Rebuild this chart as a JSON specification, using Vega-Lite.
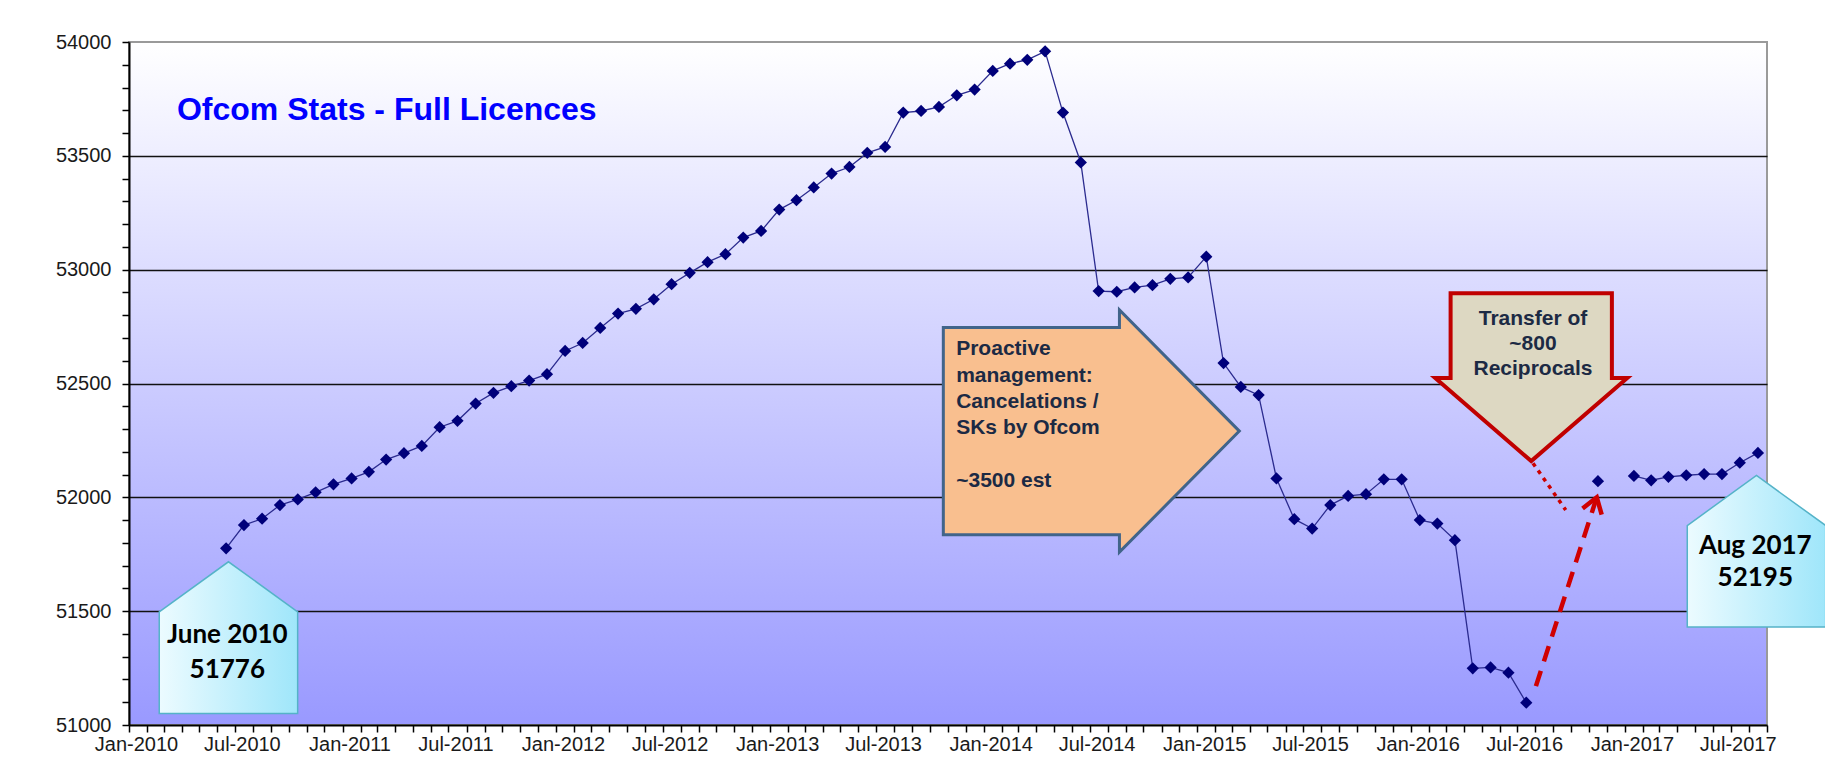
{
  "$schema": "https://vega.github.io/schema/vega-lite/v6.json",
  "width": 1638,
  "height": 683,
  "autosize": {"type": "none"},
  "padding": {"left": 129, "top": 42, "right": 58, "bottom": 52},
  "background": "#ffffff",
  "config": {
    "view": {
      "stroke": "#9a9a9a",
      "strokeWidth": 2,
      "fill": {"gradient": "linear", "x1": 0, "y1": 0, "x2": 0, "y2": 1,
        "stops": [{"offset": 0, "color": "#ffffff"}, {"offset": 1, "color": "#9999ff"}]}
    },
    "axis": {
      "labelFont": "Liberation Sans",
      "labelFontSize": 20,
      "labelColor": "#1a1a1a",
      "tickColor": "#000000",
      "tickWidth": 1.5,
      "tickSize": 7,
      "domainColor": "#000000",
      "domainWidth": 2
    }
  },
  "datasets": {
    "licences": [
      {"month": "2010-06-01", "licences": 51776},
      {"month": "2010-07-01", "licences": 51878},
      {"month": "2010-08-01", "licences": 51906},
      {"month": "2010-09-01", "licences": 51966},
      {"month": "2010-10-01", "licences": 51991},
      {"month": "2010-11-01", "licences": 52022},
      {"month": "2010-12-01", "licences": 52057},
      {"month": "2011-01-01", "licences": 52083},
      {"month": "2011-02-01", "licences": 52112},
      {"month": "2011-03-01", "licences": 52166},
      {"month": "2011-04-01", "licences": 52194},
      {"month": "2011-05-01", "licences": 52226},
      {"month": "2011-06-01", "licences": 52308},
      {"month": "2011-07-01", "licences": 52336},
      {"month": "2011-08-01", "licences": 52412},
      {"month": "2011-09-01", "licences": 52459},
      {"month": "2011-10-01", "licences": 52488},
      {"month": "2011-11-01", "licences": 52513},
      {"month": "2011-12-01", "licences": 52541},
      {"month": "2012-01-01", "licences": 52643},
      {"month": "2012-02-01", "licences": 52678},
      {"month": "2012-03-01", "licences": 52744},
      {"month": "2012-04-01", "licences": 52807},
      {"month": "2012-05-01", "licences": 52828},
      {"month": "2012-06-01", "licences": 52870},
      {"month": "2012-07-01", "licences": 52936},
      {"month": "2012-08-01", "licences": 52986},
      {"month": "2012-09-01", "licences": 53033},
      {"month": "2012-10-01", "licences": 53068},
      {"month": "2012-11-01", "licences": 53141},
      {"month": "2012-12-01", "licences": 53170},
      {"month": "2013-01-01", "licences": 53264},
      {"month": "2013-02-01", "licences": 53305},
      {"month": "2013-03-01", "licences": 53361},
      {"month": "2013-04-01", "licences": 53422},
      {"month": "2013-05-01", "licences": 53451},
      {"month": "2013-06-01", "licences": 53513},
      {"month": "2013-07-01", "licences": 53539},
      {"month": "2013-08-01", "licences": 53690},
      {"month": "2013-09-01", "licences": 53697},
      {"month": "2013-10-01", "licences": 53715},
      {"month": "2013-11-01", "licences": 53766},
      {"month": "2013-12-01", "licences": 53791},
      {"month": "2014-01-01", "licences": 53873},
      {"month": "2014-02-01", "licences": 53905},
      {"month": "2014-03-01", "licences": 53922},
      {"month": "2014-04-01", "licences": 53959},
      {"month": "2014-05-01", "licences": 53690},
      {"month": "2014-06-01", "licences": 53471},
      {"month": "2014-07-01", "licences": 52906},
      {"month": "2014-08-01", "licences": 52903},
      {"month": "2014-09-01", "licences": 52922},
      {"month": "2014-10-01", "licences": 52932},
      {"month": "2014-11-01", "licences": 52960},
      {"month": "2014-12-01", "licences": 52966},
      {"month": "2015-01-01", "licences": 53057},
      {"month": "2015-02-01", "licences": 52590},
      {"month": "2015-03-01", "licences": 52485},
      {"month": "2015-04-01", "licences": 52449},
      {"month": "2015-05-01", "licences": 52083},
      {"month": "2015-06-01", "licences": 51904},
      {"month": "2015-07-01", "licences": 51863},
      {"month": "2015-08-01", "licences": 51966},
      {"month": "2015-09-01", "licences": 52006},
      {"month": "2015-10-01", "licences": 52014},
      {"month": "2015-11-01", "licences": 52079},
      {"month": "2015-12-01", "licences": 52079},
      {"month": "2016-01-01", "licences": 51900},
      {"month": "2016-02-01", "licences": 51885},
      {"month": "2016-03-01", "licences": 51812},
      {"month": "2016-04-01", "licences": 51249},
      {"month": "2016-05-01", "licences": 51253},
      {"month": "2016-06-01", "licences": 51230},
      {"month": "2016-07-01", "licences": 51098},
      {"month": "2016-08-01", "licences": null},
      {"month": "2016-09-01", "licences": null},
      {"month": "2016-10-01", "licences": null},
      {"month": "2016-11-01", "licences": 52071},
      {"month": "2016-12-01", "licences": null},
      {"month": "2017-01-01", "licences": 52094},
      {"month": "2017-02-01", "licences": 52075},
      {"month": "2017-03-01", "licences": 52090},
      {"month": "2017-04-01", "licences": 52097},
      {"month": "2017-05-01", "licences": 52102},
      {"month": "2017-06-01", "licences": 52102},
      {"month": "2017-07-01", "licences": 52152},
      {"month": "2017-08-01", "licences": 52195}
    ],
    "title": [{"date": "2010-03-24", "value": 53656, "label": "Ofcom Stats - Full Licences"}],
    "houses": [
      {"date": "2010-06-20", "value": 51384},
      {"date": "2017-08-14", "value": 51763}
    ],
    "houseJune": [{"date": "2010-06-18", "value": 51359, "label": "June 2010\n51776"}],
    "houseAug": [{"date": "2017-08-12", "value": 51751, "label": "Aug 2017\n52195"}],
    "orangeArrow": [{"date": "2014-07-04", "value": 52291}],
    "orangeText": [
      {"date": "2013-11-15", "value": 52624, "label": "Proactive\nmanagement:\nCancelations /\nSKs  by Ofcom"},
      {"date": "2013-11-15", "value": 52046, "label": "~3500 est"}
    ],
    "beigeArrow": [{"date": "2016-07-25", "value": 52528}],
    "beigeText": [{"date": "2016-07-28", "value": 52756, "label": "Transfer of\n~800\nReciprocals"}],
    "dotted": [
      {"date": "2016-07-28", "value": 52150},
      {"date": "2016-09-22", "value": 51944}
    ],
    "dashed": [
      {"date": "2016-08-02", "value": 51171},
      {"date": "2016-11-14", "value": 52000}
    ],
    "chevron": [{"date": "2016-11-14", "value": 52000}]
  },
  "layer": [
    {
      "data": {"name": "licences"},
      "mark": {"type": "line", "color": "#2b2b8f", "strokeWidth": 1.3, "invalid": "break-paths-filter-domains"},
      "encoding": {
        "x": {
          "field": "month", "timeUnit": "utcyearmonth", "type": "temporal", "bandPosition": 0.5, "title": null,
          "scale": {"type": "utc", "domain": [{"year": 2010, "month": 1, "date": 1, "utc": true}, {"year": 2017, "month": 9, "date": 1, "utc": true}]},
          "axis": {
            "tickCount": {"interval": "month", "step": 1},
            "labelExpr": "utcmonth(datum.value) % 6 == 0 ? utcFormat(datum.value, '%b-%Y') : ''",
            "labelOffset": 7,
            "labelPadding": 2,
            "labelOverlap": false,
            "labelFlush": false,
            "labelBound": false,
            "grid": false
          }
        },
        "y": {
          "field": "licences", "type": "quantitative", "title": null,
          "scale": {"domain": [51000, 54000], "nice": false, "zero": false},
          "axis": {
            "tickCount": 30,
            "format": "d",
            "labelExpr": "datum.value % 500 == 0 ? datum.label : ''",
            "labelPadding": 11,
            "labelOverlap": false,
            "grid": true,
            "gridColor": "#111111",
            "gridWidth": 1.5,
            "gridOpacity": {"condition": {"test": "datum.value % 500 == 0 && datum.value > 51000 && datum.value < 54000", "value": 1}, "value": 0}
          }
        }
      }
    },
    {
      "data": {"name": "licences"},
      "mark": {"type": "point", "shape": "diamond", "filled": true, "size": 150, "color": "#00007a", "opacity": 1},
      "encoding": {
        "x": {"field": "month", "timeUnit": "utcyearmonth", "type": "temporal", "bandPosition": 0.5, "title": null,
          "scale": {"type": "utc", "domain": [{"year": 2010, "month": 1, "date": 1, "utc": true}, {"year": 2017, "month": 9, "date": 1, "utc": true}]}},
        "y": {"field": "licences", "type": "quantitative", "title": null, "scale": {"domain": [51000, 54000], "nice": false, "zero": false}}
      }
    },
    {
      "data": {"name": "houses"},
      "mark": {"type": "point", "shape": "M -0.913 -0.34 L 0 -1 L 0.913 -0.34 L 0.913 1 L -0.913 1 Z", "size": 22982, "filled": true, "opacity": 1,
        "fill": {"gradient": "linear", "x1": 0, "y1": 0, "x2": 1, "y2": 0, "stops": [{"offset": 0, "color": "#ecfbff"}, {"offset": 1, "color": "#9fe6fa"}]},
        "stroke": "#55b3c8", "strokeWidth": 1.5},
      "encoding": {
        "x": {"field": "date", "type": "temporal", "title": null, "scale": {"type": "utc", "domain": [{"year": 2010, "month": 1, "date": 1, "utc": true}, {"year": 2017, "month": 9, "date": 1, "utc": true}]}},
        "y": {"field": "value", "type": "quantitative", "title": null, "scale": {"domain": [51000, 54000], "nice": false, "zero": false}}
      }
    },
    {
      "data": {"name": "houseJune"},
      "mark": {"type": "text", "font": "Lato", "fontWeight": "bold", "fontSize": 26, "color": "#000000", "align": "center", "baseline": "alphabetic", "lineBreak": "\n", "lineHeight": 35},
      "encoding": {
        "x": {"field": "date", "type": "temporal", "title": null, "scale": {"type": "utc", "domain": [{"year": 2010, "month": 1, "date": 1, "utc": true}, {"year": 2017, "month": 9, "date": 1, "utc": true}]}},
        "y": {"field": "value", "type": "quantitative", "title": null, "scale": {"domain": [51000, 54000], "nice": false, "zero": false}},
        "text": {"field": "label"}
      }
    },
    {
      "data": {"name": "houseAug"},
      "mark": {"type": "text", "font": "Lato", "fontWeight": "bold", "fontSize": 26, "color": "#000000", "align": "center", "baseline": "alphabetic", "lineBreak": "\n", "lineHeight": 32},
      "encoding": {
        "x": {"field": "date", "type": "temporal", "title": null, "scale": {"type": "utc", "domain": [{"year": 2010, "month": 1, "date": 1, "utc": true}, {"year": 2017, "month": 9, "date": 1, "utc": true}]}},
        "y": {"field": "value", "type": "quantitative", "title": null, "scale": {"domain": [51000, 54000], "nice": false, "zero": false}},
        "text": {"field": "label"}
      }
    },
    {
      "data": {"name": "orangeArrow"},
      "mark": {"type": "point", "shape": "M -1 -0.7 L 0.19 -0.7 L 0.19 -0.818 L 1 0 L 0.19 0.818 L 0.19 0.7 L -1 0.7 Z", "size": 87616, "filled": true, "opacity": 1,
        "fill": "#f9bf8f", "stroke": "#41648a", "strokeWidth": 3},
      "encoding": {
        "x": {"field": "date", "type": "temporal", "title": null, "scale": {"type": "utc", "domain": [{"year": 2010, "month": 1, "date": 1, "utc": true}, {"year": 2017, "month": 9, "date": 1, "utc": true}]}},
        "y": {"field": "value", "type": "quantitative", "title": null, "scale": {"domain": [51000, 54000], "nice": false, "zero": false}}
      }
    },
    {
      "data": {"name": "orangeText"},
      "mark": {"type": "text", "font": "Liberation Sans", "fontWeight": "bold", "fontSize": 21, "color": "#1c2a44", "align": "left", "baseline": "alphabetic", "lineBreak": "\n", "lineHeight": 26.3},
      "encoding": {
        "x": {"field": "date", "type": "temporal", "title": null, "scale": {"type": "utc", "domain": [{"year": 2010, "month": 1, "date": 1, "utc": true}, {"year": 2017, "month": 9, "date": 1, "utc": true}]}},
        "y": {"field": "value", "type": "quantitative", "title": null, "scale": {"domain": [51000, 54000], "nice": false, "zero": false}},
        "text": {"field": "label"}
      }
    },
    {
      "data": {"name": "beigeArrow"},
      "mark": {"type": "point", "shape": "M -0.84 -0.875 L 0.84 -0.875 L 0.84 0.01 L 1 0.01 L 0 0.875 L -1 0.01 L -0.84 0.01 Z", "size": 36864, "filled": true, "opacity": 1,
        "fill": "#ddd8c2", "stroke": "#c00000", "strokeWidth": 4},
      "encoding": {
        "x": {"field": "date", "type": "temporal", "title": null, "scale": {"type": "utc", "domain": [{"year": 2010, "month": 1, "date": 1, "utc": true}, {"year": 2017, "month": 9, "date": 1, "utc": true}]}},
        "y": {"field": "value", "type": "quantitative", "title": null, "scale": {"domain": [51000, 54000], "nice": false, "zero": false}}
      }
    },
    {
      "data": {"name": "beigeText"},
      "mark": {"type": "text", "font": "Liberation Sans", "fontWeight": "bold", "fontSize": 21, "color": "#1c2a44", "align": "center", "baseline": "alphabetic", "lineBreak": "\n", "lineHeight": 25},
      "encoding": {
        "x": {"field": "date", "type": "temporal", "title": null, "scale": {"type": "utc", "domain": [{"year": 2010, "month": 1, "date": 1, "utc": true}, {"year": 2017, "month": 9, "date": 1, "utc": true}]}},
        "y": {"field": "value", "type": "quantitative", "title": null, "scale": {"domain": [51000, 54000], "nice": false, "zero": false}},
        "text": {"field": "label"}
      }
    },
    {
      "data": {"name": "dotted"},
      "mark": {"type": "line", "color": "#cc0000", "strokeWidth": 3.5, "strokeDash": [4, 5]},
      "encoding": {
        "x": {"field": "date", "type": "temporal", "title": null, "scale": {"type": "utc", "domain": [{"year": 2010, "month": 1, "date": 1, "utc": true}, {"year": 2017, "month": 9, "date": 1, "utc": true}]}},
        "y": {"field": "value", "type": "quantitative", "title": null, "scale": {"domain": [51000, 54000], "nice": false, "zero": false}}
      }
    },
    {
      "data": {"name": "dashed"},
      "mark": {"type": "line", "color": "#d00000", "strokeWidth": 4.5, "strokeDash": [16, 10]},
      "encoding": {
        "x": {"field": "date", "type": "temporal", "title": null, "scale": {"type": "utc", "domain": [{"year": 2010, "month": 1, "date": 1, "utc": true}, {"year": 2017, "month": 9, "date": 1, "utc": true}]}},
        "y": {"field": "value", "type": "quantitative", "title": null, "scale": {"domain": [51000, 54000], "nice": false, "zero": false}}
      }
    },
    {
      "data": {"name": "chevron"},
      "mark": {"type": "point", "shape": "M -0.67 1 L 0 0 L 0.67 1", "size": 900, "filled": false, "opacity": 1, "fill": "transparent", "fillOpacity": 0, "stroke": "#d00000", "strokeWidth": 4.5, "angle": 18},
      "encoding": {
        "x": {"field": "date", "type": "temporal", "title": null, "scale": {"type": "utc", "domain": [{"year": 2010, "month": 1, "date": 1, "utc": true}, {"year": 2017, "month": 9, "date": 1, "utc": true}]}},
        "y": {"field": "value", "type": "quantitative", "title": null, "scale": {"domain": [51000, 54000], "nice": false, "zero": false}}
      }
    },
    {
      "data": {"name": "title"},
      "mark": {"type": "text", "font": "Liberation Sans", "fontWeight": "bold", "fontSize": 32, "color": "#0000ff", "align": "left", "baseline": "alphabetic"},
      "encoding": {
        "x": {"field": "date", "type": "temporal", "title": null, "scale": {"type": "utc", "domain": [{"year": 2010, "month": 1, "date": 1, "utc": true}, {"year": 2017, "month": 9, "date": 1, "utc": true}]}},
        "y": {"field": "value", "type": "quantitative", "title": null, "scale": {"domain": [51000, 54000], "nice": false, "zero": false}},
        "text": {"field": "label"}
      }
    }
  ]
}
